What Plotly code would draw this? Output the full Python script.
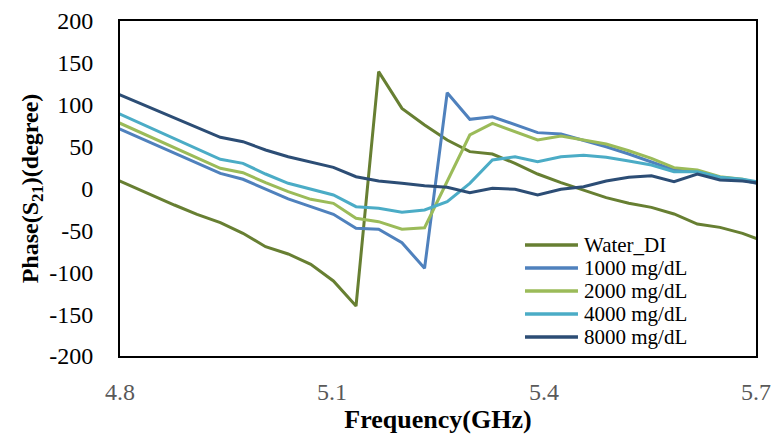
import plotly.graph_objects as go

# Frequencies (GHz) of the sampled points (first/last lie just outside the axis range)
freq = [4.781, 4.813, 4.845, 4.877, 4.909, 4.942, 4.974, 5.006, 5.038, 5.070,
        5.102, 5.134, 5.166, 5.199, 5.231, 5.263, 5.295, 5.327, 5.359, 5.391,
        5.424, 5.456, 5.488, 5.520, 5.552, 5.584, 5.617, 5.649, 5.681, 5.713]

water_di = [16, 4, -7.8, -19.7, -30.8, -40.8, -53.5, -69.5, -78.2, -90.5,
            -110.4, -140.3, 139.5, 95.7, 75.8, 57.9, 44.0, 41.2, 30.0, 17.3,
            7.0, -1.8, -10.9, -17.7, -22.5, -30.4, -42.4, -46.4, -53.5, -63.7]

c1000 = [77.9, 65.9, 53.9, 42.0, 30.0, 18.1, 11.0, -1.0, -12.5, -21.7,
         -30.8, -47.5, -48.7, -64.7, -95.3, 114.4, 82.6, 85.7, 75.8, 66.7,
         65.0, 57.9, 49.9, 41.2, 32.0, 22.1, 20.1, 13.4, 10.1, 3.5]

c2000 = [85.1, 72.9, 60.6, 48.4, 36.2, 24.1, 18.9, 7.0, -3.8, -12.9,
         -17.7, -35.6, -39.6, -48.7, -46.8, 8.0, 63.9, 77.8, 67.8, 57.9,
         62.7, 57.9, 53.1, 45.1, 36.0, 24.9, 22.1, 14.1, 11.0, 4.2]

c4000 = [95.9, 83.7, 71.4, 59.2, 47.0, 34.8, 30.0, 17.3, 6.2, -1.0,
         -7.8, -21.7, -23.7, -28.4, -25.7, -15.7, 6.2, 34.0, 38.0, 32.0,
         38.0, 39.6, 37.2, 32.8, 28.1, 20.1, 20.1, 13.4, 11.0, 6.6]

c8000 = [118.5, 107.0, 95.5, 84.0, 72.6, 61.1, 55.9, 46.0, 38.0, 31.3,
         25.3, 14.1, 9.0, 6.2, 3.3, 1.4, -5.0, 0.2, -1.0, -7.8,
         -1.0, 2.2, 9.0, 13.4, 15.3, 8.2, 17.3, 10.1, 9.0, 5.6]

names = ["Water_DI", "1000 mg/dL", "2000 mg/dL", "4000 mg/dL", "8000 mg/dL"]
series = [water_di, c1000, c2000, c4000, c8000]
colors = ["#677F32", "#4F81BD", "#9BBB59", "#4BACC6", "#2C4D75"]

x_ticks = [4.8, 5.1, 5.4, 5.7]
y_ticks = [-200, -150, -100, -50, 0, 50, 100, 150, 200]

FONT = "Liberation Serif"

fig = go.Figure()
for name, ys, col in zip(names, series, colors):
    fig.add_trace(go.Scatter(x=freq, y=ys, mode="lines", name=name,
                             line=dict(color=col, width=3), showlegend=False))

# Legend drawn inside the plot (line sample + label), bottom-right
leg_x0, leg_x1, leg_tx = 0.6368, 0.7201, 0.727
leg_y0, leg_dy = 0.3313, 0.0687
for i, (name, col) in enumerate(zip(names, colors)):
    yy = leg_y0 - i * leg_dy
    fig.add_shape(type="line", xref="paper", yref="paper",
                  x0=leg_x0, x1=leg_x1, y0=yy, y1=yy,
                  line=dict(color=col, width=3.5))
    fig.add_annotation(xref="paper", yref="paper", x=leg_tx, y=yy,
                       text=name, showarrow=False, xanchor="left",
                       yanchor="middle",
                       font=dict(family=FONT, size=21, color="black"))

fig.update_layout(
    width=773, height=443,
    margin=dict(l=120, r=17, t=21, b=87),
    paper_bgcolor="white", plot_bgcolor="white",
    font=dict(family=FONT, size=24, color="black"),
    showlegend=False,
)
fig.update_xaxes(
    range=[4.8, 5.7], tickvals=x_ticks, ticktext=[f"{v:.1f}" for v in x_ticks],
    showgrid=False, zeroline=False, showline=True, mirror=True,
    linecolor="black", linewidth=2, ticks="", automargin=False,
    tickfont=dict(family=FONT, size=24, color="#595959"),
    ticklabelstandoff=13,
    title=dict(text="<b>Frequency(GHz)</b>", standoff=4,
               font=dict(family=FONT, size=26, color="black")),
)
fig.update_yaxes(
    range=[-200, 200], tickvals=y_ticks, ticktext=[str(v) for v in y_ticks],
    showgrid=False, zeroline=False, showline=True, mirror=True,
    linecolor="black", linewidth=2, ticks="", automargin=False,
    tickfont=dict(family=FONT, size=24, color="black"),
    ticklabelstandoff=20,
    title=dict(text="<b>Phase(S<sub>21</sub>)(degree)</b>", standoff=4,
               font=dict(family=FONT, size=24, color="black")),
)

fig.write_html("out.html")
